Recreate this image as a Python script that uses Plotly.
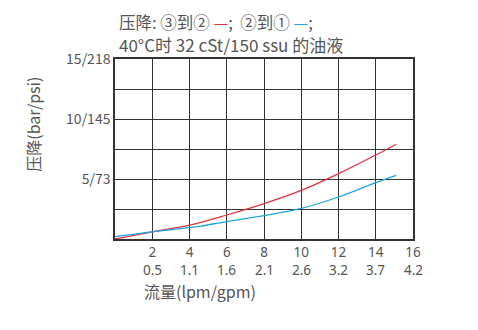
import plotly.graph_objects as go

# Data
flow_red = [0, 2, 4, 6, 8, 10, 12, 14, 15.1]
dp_red = [0.0, 0.6, 1.15, 2.0, 2.95, 4.05, 5.45, 7.0, 7.9]
flow_blue = [0, 2, 4, 4.6, 6, 8, 10, 12, 14, 15.1]
dp_blue = [0.2, 0.6, 0.95, 1.08, 1.45, 1.95, 2.55, 3.5, 4.7, 5.3]

x_ticks = [2, 4, 6, 8, 10, 12, 14, 16]
x_ticktext_lpm = ["2", "4", "6", "8", "10", "12", "14", "16"]
x_ticktext_gpm = ["0.5", "1.1", "1.6", "2.1", "2.6", "3.2", "3.7", "4.2"]
y_ticks = [2.5, 5, 7.5, 10, 12.5, 15]
y_ticktext = ["", "5/73", "", "10/145", "", "15/218"]

font_family = "Noto Sans CJK SC"
num_font = "Noto Sans"
text_color = "#555555"
grid_color = "#333333"
red = "#e2323c"
blue = "#1ea5dc"

fig = go.Figure()
fig.add_trace(go.Scatter(x=flow_red, y=dp_red, mode="lines", line=dict(color=red, width=1.3, shape="spline"), showlegend=False))
fig.add_trace(go.Scatter(x=flow_blue, y=dp_blue, mode="lines", line=dict(color=blue, width=1.3, shape="spline"), showlegend=False))

annotations = [
    dict(text=f"压降: ③到② <span style='color:{red}'>—</span>;  ②到① <span style='color:{blue}'>—</span>;",
         xref="paper", yref="paper", x=0.0, y=1.206, xanchor="left", yanchor="middle",
         showarrow=False, font=dict(size=16.5, color=text_color, family=font_family), xshift=2),
    dict(text="40°C时 32 cSt/150 ssu 的油液",
         xref="paper", yref="paper", x=0.0, y=1.083, xanchor="left", yanchor="middle",
         showarrow=False, font=dict(size=17, color=text_color, family=font_family), xshift=2),
    dict(text="压降(bar/psi)", xref="paper", yref="paper", x=-0.275, y=0.635, textangle=-90,
         xanchor="center", yanchor="middle", showarrow=False, font=dict(size=16, color=text_color)),
    dict(text="流量(lpm/gpm)", xref="paper", yref="paper", x=0.09, y=-0.29, xanchor="left",
         yanchor="middle", showarrow=False, font=dict(size=16, color=text_color)),
]
for xv, t in zip(x_ticks, x_ticktext_gpm):
    annotations.append(dict(text=t, xref="x", yref="paper", x=xv, y=-0.17, xanchor="center",
                            yanchor="middle", showarrow=False,
                            font=dict(size=13.5, color=text_color, family=num_font)))

fig.update_layout(
    width=478, height=330,
    margin=dict(l=115, r=65, t=59, b=91),
    paper_bgcolor="white", plot_bgcolor="white",
    font=dict(family=font_family, color=text_color, size=14),
    xaxis=dict(range=[0, 16], tickvals=x_ticks, ticktext=x_ticktext_lpm, showgrid=True,
               gridcolor=grid_color, gridwidth=1, showline=True, linecolor=grid_color, linewidth=1.5,
               mirror=True, zeroline=False, ticks="", ticklabelstandoff=0,
               tickfont=dict(size=13.5, color=text_color, family=num_font)),
    yaxis=dict(range=[0, 15], tickvals=y_ticks, ticktext=y_ticktext, showgrid=True,
               gridcolor=grid_color, gridwidth=1, showline=True, linecolor=grid_color, linewidth=1.5,
               mirror=True, zeroline=False, ticks="", tickfont=dict(size=14, color=text_color)),
    annotations=annotations,
)

fig.write_html("out.html")
